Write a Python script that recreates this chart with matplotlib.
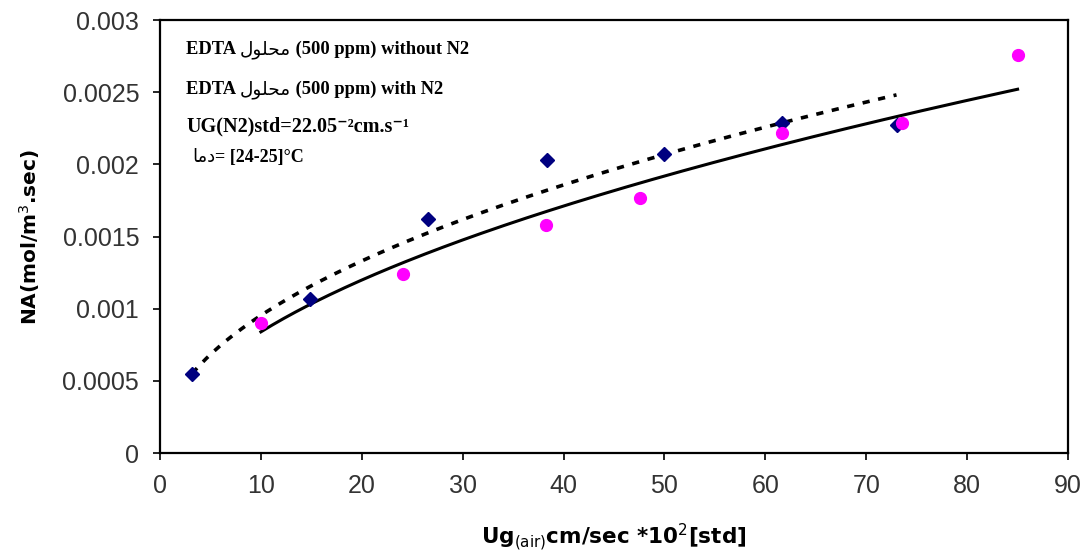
import numpy as np
import matplotlib
matplotlib.use("Agg")
import matplotlib.pyplot as plt
from matplotlib.transforms import offset_copy

plt.rcParams['mathtext.fontset'] = 'custom'
plt.rcParams['mathtext.rm'] = 'DejaVu Sans'
plt.rcParams['mathtext.sf'] = 'DejaVu Sans'
plt.rcParams['mathtext.bf'] = 'DejaVu Sans:bold'

# Data: without N2 (navy diamonds) and with N2 (magenta circles)
x_without = [3.2, 14.9, 26.6, 38.4, 50.0, 61.7, 73.0]
y_without = [0.00055, 0.00107, 0.00162, 0.00203, 0.00207, 0.00229, 0.00227]
x_with = [10.0, 24.1, 38.3, 47.6, 61.7, 73.5, 85.0]
y_with = [0.00090, 0.00124, 0.00158, 0.00177, 0.00222, 0.00229, 0.00276]

x_ticks = [0, 10, 20, 30, 40, 50, 60, 70, 80, 90]
y_ticks = [0, 0.0005, 0.001, 0.0015, 0.002, 0.0025, 0.003]
y_tick_labels = ['0', '0.0005', '0.001', '0.0015', '0.002', '0.0025', '0.003']

# Arabic words in visual (presentation-form) order
arabic_solution = "\uFEDD\uFEEE\uFEE0\uFEA4\uFEE3"   # محلول
arabic_temp = "\uFE8E\uFEE3\uFEA9"                   # دما

legend_line1 = [("EDTA ", 'bold'), (arabic_solution, 'normal'), (" (500 ppm) without N2", 'bold')]
legend_line2 = [("EDTA ", 'bold'), (arabic_solution, 'normal'), (" (500 ppm) with N2", 'bold')]
legend_line3 = "UG(N2)std=22.05\u207B\u00B2cm.s\u207B\u00B9"
legend_line4 = [(arabic_temp, 'normal'), ("= [24-25]\u00B0C", 'bold')]


def power_fit(x, y):
    b, ln_a = np.polyfit(np.log(x), np.log(y), 1)
    xs = np.linspace(min(x), max(x), 200)
    return xs, np.exp(ln_a) * xs ** b


fig = plt.figure(figsize=(10.81, 5.58), dpi=100)
ax = fig.add_axes([0.148, 0.188, 0.84, 0.776])

xs1, ys1 = power_fit(x_without, y_without)
xs2, ys2 = power_fit(x_with, y_with)
ax.plot(xs1, ys1, color='black', lw=2.6, linestyle=(0, (2.0, 2.4)), zorder=3)
ax.plot(xs2, ys2, color='black', lw=2.2, linestyle='-', zorder=3)

ax.plot(x_without, y_without, linestyle='none', marker='D', markersize=7,
        color='#000080', zorder=4)
ax.plot(x_with, y_with, linestyle='none', marker='o', markersize=8.5,
        color='#FF00FF', zorder=4)

ax.set_xlim(0, 90)
ax.set_ylim(0, 0.003)
ax.set_xticks(x_ticks)
ax.set_yticks(y_ticks)
ax.set_yticklabels(y_tick_labels)
ax.tick_params(axis='both', direction='out', length=5, width=1.2,
               labelsize=18, colors='black', pad=10)
for lab in ax.get_xticklabels() + ax.get_yticklabels():
    lab.set_fontfamily('Liberation Sans')
    lab.set_color('#333333')
for s in ax.spines.values():
    s.set_linewidth(1.6)

ax.set_xlabel("Ug$_{\\mathsf{(air)}}$cm/sec *10$^{\\mathsf{2}}$[std]",
              fontsize=15.5, fontweight='bold', family='DejaVu Sans')
ax.set_ylabel("NA(mol/m$^{\\mathsf{3}}$.sec)", fontsize=14.5, fontweight='bold',
              family='DejaVu Sans')
ax.xaxis.set_label_coords(0.5, (453 - 521) / 433)
ax.yaxis.set_label_coords((42 - 160) / 908, 0.5)

renderer = fig.canvas.get_renderer()


def place_pieces(x_px, y_px, pieces, size):
    trans = fig.transFigure
    x0 = x_px / 1081
    y0 = 1 - y_px / 558
    offset = 0.0
    for txt, weight in pieces:
        fam = ['Liberation Serif'] if weight == 'bold' else ['DejaVu Sans']
        t = fig.text(x0, y0, txt, fontsize=size, fontweight=weight, family=fam,
                     ha='left', va='baseline',
                     transform=offset_copy(trans, fig=fig, x=offset, y=0, units='dots'))
        bb = t.get_window_extent(renderer=renderer)
        offset += bb.width


place_pieces(186, 54, legend_line1, 13.3)
place_pieces(186, 94, legend_line2, 13.3)
fig.text(186 / 1081, 1 - 131 / 558, legend_line3, fontsize=14.5, fontweight='bold',
         family=['Liberation Serif', 'DejaVu Sans'], ha='left', va='baseline')
place_pieces(192, 162, legend_line4, 13)

fig.savefig('out.png', dpi=100)
